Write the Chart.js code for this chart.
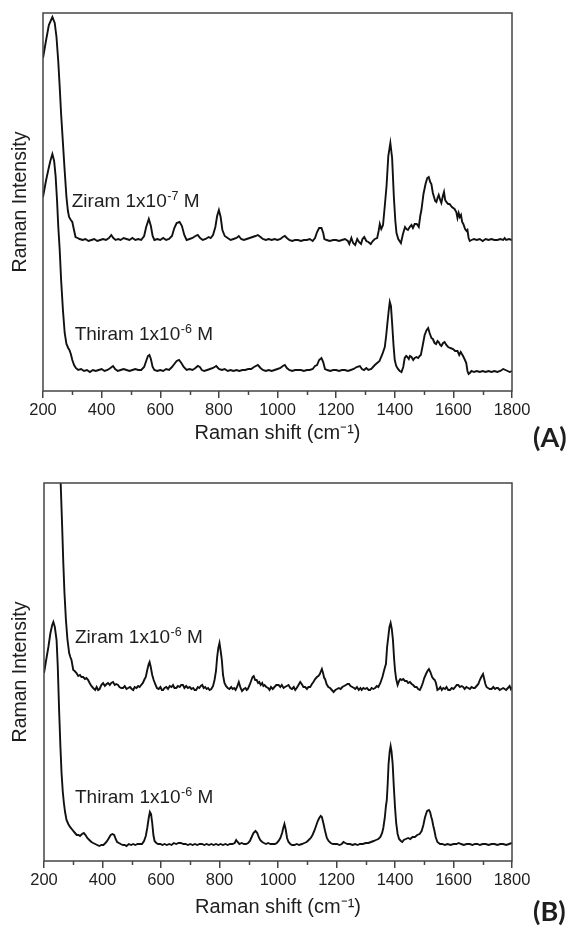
<!DOCTYPE html>
<html>
<head>
<meta charset="utf-8">
<script src="https://cdn.jsdelivr.net/npm/chart.js@4.4.1/dist/chart.umd.min.js"></script>
<style>
  html, body { margin: 0; padding: 0; background: #fff; }
  .panel { position: absolute; left: 0; }
</style>
</head>
<body>
<canvas id="panelA" class="panel" width="573" height="465" style="top:0"></canvas>
<canvas id="panelB" class="panel" width="573" height="466" style="top:465px"></canvas>
<script>
// Axis settings (Raman shift, cm-1)
const xMin = 200;
const xMax = 1800;
const majorStep = 200;
const minorStep = 100;
const yMax = 378; // arbitrary intensity units

// Spectra: [Raman shift, intensity]
const ziramA = [[200,333],[210,350],[220,366],[232,374],[240,368],[246,354],[252,330],[257,304],[262,276],[268,248],[274,220],[280,194],[285,180],[289,174],[295,171],[300,169],[305,162],[311,154],[318,153],[325,152],[335,151],[345,152],[355,150],[365,151],[375,152],[385,150],[395,151],[405,152],[415,151],[425,153],[433,156],[440,153],[448,151],[456,152],[465,151],[475,153],[485,152],[495,151],[505,153],[515,151],[525,152],[535,151],[545,155],[552,164],[561,172],[568,165],[574,155],[580,151],[590,152],[600,151],[610,153],[620,151],[630,152],[640,155],[648,163],[656,168],[666,169],[674,165],[682,156],[690,151],[700,152],[710,153],[720,155],[728,156],[736,153],[745,151],[755,152],[765,154],[772,153],[780,156],[788,164],[794,175],[800,181],[806,174],[812,161],[820,155],[830,153],[840,151],[850,152],[860,153],[868,155],[876,152],[885,151],[895,152],[905,153],[915,154],[925,155],[933,156],[942,154],[950,152],[960,151],[970,152],[980,151],[990,152],[1000,151],[1010,152],[1018,154],[1025,155],[1032,153],[1040,151],[1050,150],[1060,151],[1070,151],[1080,150],[1090,151],[1100,151],[1110,152],[1120,150],[1128,153],[1135,159],[1142,163],[1150,163],[1156,158],[1160,152],[1168,151],[1178,150],[1190,151],[1200,151],[1210,150],[1220,151],[1230,152],[1240,150],[1245,147],[1252,153],[1258,148],[1265,146],[1272,152],[1278,149],[1285,147],[1290,152],[1296,154],[1303,150],[1310,149],[1318,147],[1325,150],[1332,152],[1340,153],[1345,160],[1349,167],[1354,162],[1360,166],[1366,185],[1372,205],[1378,235],[1385,248],[1391,233],[1397,194],[1402,170],[1406,158],[1412,152],[1421,148],[1428,157],[1435,164],[1440,162],[1445,161],[1451,164],[1457,166],[1462,163],[1468,167],[1475,167],[1482,164],[1487,175],[1491,181],[1498,197],[1505,207],[1511,213],[1516,214],[1521,209],[1525,207],[1530,198],[1534,194],[1538,190],[1542,189],[1546,193],[1550,196],[1555,191],[1559,188],[1564,195],[1568,199],[1572,191],[1576,189],[1582,187],[1587,187],[1595,184],[1604,182],[1610,179],[1614,173],[1618,178],[1622,174],[1626,176],[1630,169],[1634,167],[1640,162],[1645,160],[1648,161],[1652,153],[1656,150],[1662,151],[1670,152],[1680,151],[1690,152],[1700,150],[1710,152],[1720,151],[1730,152],[1740,151],[1750,151],[1760,152],[1770,151],[1775,153],[1780,151],[1790,152],[1800,151]];

const thiramA = [[200,194],[210,210],[218,221],[225,230],[232,237],[238,230],[243,215],[248,190],[252,165],[257,141],[262,110],[268,81],[274,58],[280,47],[286,43],[290,41],[295,37],[300,31],[306,26],[312,23],[320,21],[330,22],[340,20],[350,21],[360,19],[370,21],[380,20],[390,21],[400,22],[410,20],[420,21],[430,23],[439,25],[446,22],[455,20],[465,21],[475,22],[485,21],[495,20],[505,21],[515,22],[525,21],[535,21],[545,24],[552,30],[558,35],[563,36],[568,32],[574,24],[580,21],[590,20],[600,21],[610,20],[620,22],[630,21],[640,24],[648,27],[656,30],[664,31],[672,28],[680,24],[690,21],[700,22],[710,21],[720,23],[728,25],[735,24],[742,21],[750,20],[760,21],[770,22],[780,23],[791,25],[800,22],[810,21],[820,22],[830,20],[840,21],[850,20],[860,21],[870,20],[880,21],[890,21],[900,22],[910,22],[920,24],[933,26],[942,23],[950,21],[960,20],[970,21],[980,20],[990,21],[1000,22],[1010,23],[1018,25],[1025,26],[1032,23],[1040,21],[1050,20],[1060,21],[1070,21],[1080,21],[1090,20],[1100,21],[1110,21],[1120,22],[1128,25],[1135,26],[1142,31],[1150,33],[1156,29],[1162,22],[1170,21],[1180,20],[1190,21],[1200,21],[1210,20],[1220,21],[1230,21],[1240,20],[1250,21],[1260,22],[1270,24],[1281,25],[1288,22],[1295,21],[1303,23],[1310,21],[1320,22],[1332,26],[1340,28],[1348,30],[1352,33],[1358,37],[1366,44],[1371,56],[1375,68],[1380,82],[1383,89],[1387,85],[1391,68],[1396,45],[1400,31],[1405,25],[1411,22],[1417,20],[1423,19],[1429,24],[1434,33],[1439,35],[1443,34],[1448,32],[1452,35],[1457,34],[1463,31],[1468,33],[1474,34],[1480,33],[1485,35],[1489,36],[1495,45],[1502,56],[1509,61],[1514,63],[1519,58],[1525,53],[1530,52],[1536,48],[1541,47],[1546,50],[1550,49],[1555,46],[1559,45],[1565,48],[1570,49],[1576,46],[1582,44],[1590,43],[1599,42],[1606,40],[1614,40],[1620,36],[1625,39],[1629,37],[1633,35],[1638,32],[1644,28],[1648,20],[1652,17],[1656,18],[1662,20],[1670,19],[1680,20],[1690,19],[1700,20],[1710,19],[1720,20],[1730,19],[1740,20],[1750,19],[1760,20],[1770,22],[1778,21],[1785,20],[1792,19],[1800,20]];

const ziramB = [[200,620],[225,680],[245,560],[252,450],[257,378],[262,335],[266,298],[270,268],[275,241],[280,222],[286,208],[290,204],[294,201],[300,191],[305,190],[311,188],[317,185],[323,186],[328,184],[334,184],[340,182],[345,183],[351,181],[356,178],[362,175],[368,173],[375,171],[380,174],[385,171],[390,172],[396,176],[402,178],[408,175],[414,177],[419,178],[425,176],[430,178],[436,179],[442,176],[447,177],[453,176],[458,174],[464,173],[470,173],[476,175],[482,172],[488,173],[494,174],[500,172],[505,171],[510,174],[516,173],[522,175],[527,174],[532,176],[538,178],[544,182],[548,184],[553,191],[558,197],[561,199],[565,194],[570,186],[575,181],[580,177],[586,173],[592,172],[598,174],[603,171],[607,171],[612,173],[618,174],[624,172],[630,175],[636,174],[641,176],[646,173],[652,173],[658,175],[664,174],[669,176],[675,176],[680,173],[686,175],[692,173],[698,174],[704,172],[710,173],[715,171],[720,171],[726,174],[731,173],[736,175],[741,176],[746,173],[751,174],[756,172],[761,173],[766,171],[772,172],[778,175],[783,181],[788,190],[792,204],[796,213],[800,218],[804,210],[808,201],[812,186],[817,178],[822,175],[828,173],[834,172],[840,174],[845,172],[850,173],[855,171],[860,174],[866,179],[872,173],[877,170],[883,172],[889,173],[893,171],[897,172],[903,176],[908,180],[913,184],[917,185],[922,181],[927,181],[932,178],[936,179],[941,176],[946,178],[950,175],[954,176],[960,174],[966,173],[971,171],[976,174],[982,172],[988,174],[994,176],[1002,176],[1008,174],[1013,176],[1019,173],[1024,174],[1030,175],[1036,176],[1042,173],[1048,172],[1054,174],[1059,171],[1064,173],[1070,176],[1076,179],[1081,177],[1087,174],[1093,174],[1099,172],[1104,174],[1110,174],[1116,177],[1121,179],[1127,182],[1133,184],[1138,185],[1143,187],[1147,190],[1150,192],[1154,188],[1158,183],[1161,182],[1166,177],[1172,174],[1178,173],[1184,171],[1190,169],[1196,171],[1202,172],[1208,173],[1214,172],[1220,174],[1226,175],[1232,176],[1238,177],[1243,177],[1248,175],[1254,174],[1260,173],[1264,172],[1270,174],[1276,171],[1282,173],[1286,171],[1292,173],[1298,172],[1304,173],[1310,171],[1315,171],[1320,173],[1326,172],[1332,173],[1338,175],[1343,174],[1350,178],[1357,184],[1364,192],[1369,197],[1373,214],[1377,224],[1381,234],[1385,238],[1389,232],[1393,221],[1397,202],[1400,191],[1404,182],[1409,176],[1414,180],[1418,182],[1423,181],[1428,182],[1434,180],[1440,180],[1445,178],[1451,179],[1457,177],[1462,176],[1468,174],[1474,174],[1479,172],[1485,171],[1490,174],[1495,178],[1500,183],[1506,187],[1511,190],[1516,192],[1521,189],[1527,184],[1532,182],[1536,181],[1540,178],[1545,171],[1550,172],[1555,174],[1560,171],[1565,173],[1571,172],[1576,174],[1582,171],[1588,171],[1594,173],[1600,172],[1606,174],[1611,176],[1616,176],[1622,174],[1628,175],[1633,174],[1638,172],[1644,174],[1650,173],[1656,172],[1662,174],[1668,173],[1673,173],[1679,175],[1685,177],[1690,181],[1695,184],[1701,187],[1705,182],[1709,177],[1713,174],[1718,173],[1724,172],[1730,172],[1736,174],[1742,172],[1747,173],[1752,173],[1758,171],[1764,172],[1770,173],[1775,172],[1780,171],[1786,173],[1792,175],[1796,172],[1800,174]];

const thiramB = [[200,188],[208,202],[215,214],[222,228],[228,236],[232,239],[237,234],[243,221],[247,195],[252,148],[256,115],[260,88],[264,70],[268,58],[272,49],[277,41],[283,37],[289,34],[295,32],[300,30],[306,28],[312,26],[318,26],[323,25],[330,27],[336,28],[342,26],[348,23],[355,21],[362,19],[368,18],[375,17],[382,16],[389,15],[396,16],[403,16],[410,18],[416,20],[422,23],[428,26],[434,27],[440,26],[445,22],[450,19],[456,18],[462,17],[470,16],[476,16],[482,15],[490,17],[498,16],[505,17],[512,16],[520,17],[527,17],[535,17],[542,20],[548,25],[553,33],[558,43],[562,49],[566,47],[570,38],[574,26],[578,20],[584,18],[590,17],[598,17],[605,16],[612,17],[620,16],[628,17],[636,16],[644,18],[652,17],[660,18],[668,18],[676,17],[684,17],[692,16],[700,17],[708,16],[716,17],[724,16],[732,17],[740,17],[748,16],[756,17],[764,16],[772,17],[780,16],[788,17],[796,16],[804,17],[812,16],[820,17],[828,16],[836,17],[844,17],[852,18],[857,21],[862,19],[868,17],[876,18],[884,17],[891,17],[898,18],[904,20],[910,24],[916,28],[923,30],[929,28],[934,24],[939,21],[946,19],[952,18],[959,17],[966,18],[974,17],[982,17],[990,17],[996,18],[1002,20],[1008,23],[1014,28],[1018,33],[1022,37],[1026,32],[1031,23],[1036,19],[1042,17],[1048,16],[1056,16],[1064,17],[1072,16],[1082,17],[1090,18],[1098,19],[1105,21],[1112,23],[1118,26],[1124,30],[1130,35],[1136,40],[1141,43],[1146,45],[1150,44],[1155,38],[1161,30],[1167,23],[1173,20],[1180,18],[1188,17],[1195,17],[1202,17],[1210,16],[1218,17],[1224,19],[1230,18],[1238,17],[1246,17],[1255,16],[1264,17],[1272,16],[1280,17],[1290,17],[1300,18],[1309,18],[1318,19],[1327,20],[1335,21],[1343,22],[1350,24],[1356,28],[1360,33],[1365,43],[1369,55],[1372,61],[1375,77],[1378,97],[1382,110],[1385,115],[1388,110],[1392,97],[1396,74],[1400,54],[1404,38],[1409,27],[1414,22],[1420,20],[1425,19],[1430,21],[1437,22],[1445,23],[1452,22],[1460,24],[1468,24],[1476,26],[1484,27],[1491,30],[1497,36],[1502,43],[1506,47],[1510,50],[1516,51],[1520,49],[1524,44],[1527,41],[1531,35],[1535,30],[1539,24],[1545,19],[1554,17],[1562,17],[1570,16],[1580,17],[1590,16],[1600,17],[1610,17],[1618,18],[1626,17],[1635,16],[1645,17],[1655,17],[1665,16],[1673,17],[1682,17],[1690,16],[1700,17],[1710,17],[1720,16],[1730,17],[1740,17],[1750,16],[1760,17],[1770,17],[1780,16],[1790,17],[1800,18]];

// Sample labels (text, exponent)
const labelsA = [
  { text: 'Ziram 1x10', sup: '-7', x: 298, y: 184 },
  { text: 'Thiram 1x10', sup: '-6', x: 308, y: 51 }
];
const labelsB = [
  { text: 'Ziram 1x10', sup: '-6', x: 306, y: 218 },
  { text: 'Thiram 1x10', sup: '-6', x: 306, y: 58 }
];

const FONT = '"Liberation Sans", Arial, sans-serif';
const TEXT = '#1e1e1e';

// Frame, minor ticks, sample labels and panel tag
const decor = {
  id: 'decor',
  afterDraw(chart, args, opts) {
    const { ctx, chartArea: a, scales: { x, y } } = chart;
    ctx.save();
    ctx.strokeStyle = '#444';
    ctx.lineWidth = 1.5;
    ctx.strokeRect(a.left, a.top, a.right - a.left, a.bottom - a.top);

    ctx.beginPath();
    for (let v = xMin + minorStep; v < xMax; v += majorStep) {
      const px = Math.round(x.getPixelForValue(v)) + 0.5;
      ctx.moveTo(px, a.bottom);
      ctx.lineTo(px, a.bottom + 4);
    }
    ctx.stroke();

    ctx.fillStyle = TEXT;
    ctx.textBaseline = 'alphabetic';
    ctx.textAlign = 'left';
    opts.labels.forEach(l => {
      let px = x.getPixelForValue(l.x);
      const py = y.getPixelForValue(l.y);
      ctx.font = '19px ' + FONT;
      ctx.fillText(l.text, px, py);
      px += ctx.measureText(l.text).width;
      ctx.font = '12.5px ' + FONT;
      ctx.fillText(l.sup, px + 0.5, py - 7);
      px += ctx.measureText(l.sup).width + 0.5;
      ctx.font = '19px ' + FONT;
      ctx.fillText(' M', px, py);
    });

    ctx.font = 'bold 27px Lato, "Open Sans", sans-serif';
    ctx.textBaseline = 'middle';
    ctx.fillText(opts.tag, opts.tagX, opts.tagY);
    ctx.restore();
  }
};

function toPoints(arr) {
  return arr.map(p => ({ x: p[0], y: p[1] }));
}

function makePanel(canvasId, upper, lower, cfg) {
  const ctx = document.getElementById(canvasId).getContext('2d');
  return new Chart(ctx, {
    type: 'line',
    data: {
      datasets: [upper, lower].map(d => ({
        data: toPoints(d),
        borderColor: '#111',
        borderWidth: 1.9,
        pointRadius: 0,
        tension: 0,
        fill: false
      }))
    },
    options: {
      responsive: false,
      animation: false,
      events: [],
      layout: { padding: { left: 0, top: cfg.top, right: 61, bottom: 0 } },
      plugins: {
        legend: { display: false },
        tooltip: { enabled: false },
        decor: { labels: cfg.labels, tag: cfg.tag, tagX: 533, tagY: cfg.tagY }
      },
      scales: {
        x: {
          type: 'linear',
          min: xMin,
          max: xMax,
          border: { display: false },
          grid: { drawOnChartArea: false, drawTicks: true, tickLength: 7, color: '#444', lineWidth: 1.5 },
          ticks: {
            stepSize: majorStep,
            padding: 3,
            color: TEXT,
            font: { family: FONT, size: 16.5 },
            callback: v => String(v)
          },
          title: {
            display: true,
            text: 'Raman shift (cm\u207B\u00B9)',
            color: TEXT,
            font: { family: FONT, size: 20 },
            padding: { top: 0, bottom: cfg.titlePad }
          },
          afterFit: s => { s.height = cfg.xHeight; }
        },
        y: {
          min: 0,
          max: yMax,
          border: { display: false },
          grid: { display: false },
          ticks: { display: false },
          title: {
            display: true,
            text: 'Raman Intensity',
            color: TEXT,
            font: { family: FONT, size: 19.5 },
            padding: { top: 9, bottom: 0 }
          },
          afterFit: s => { s.width = cfg.yWidth; }
        }
      }
    },
    plugins: [decor]
  });
}

// 1. Panel A
makePanel('panelA', ziramA, thiramA, {
  top: 13, xHeight: 74, yWidth: 43, titlePad: 20, labels: labelsA, tag: '(A)', tagY: 438
});

// 2. Panel B
makePanel('panelB', ziramB, thiramB, {
  top: 18, xHeight: 70, yWidth: 44, titlePad: 12, labels: labelsB, tag: '(B)', tagY: 447
});
</script>
</body>
</html>
